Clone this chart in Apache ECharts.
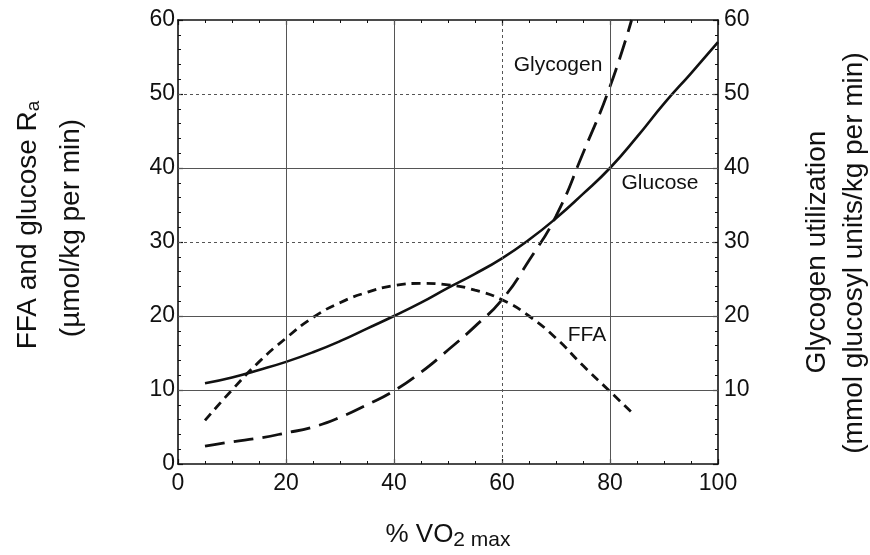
<!DOCTYPE html>
<html><head><meta charset="utf-8">
<script src="https://cdn.jsdelivr.net/npm/echarts@6/dist/echarts.min.js"></script>
<style>html,body{margin:0;padding:0;background:#fff}#c{width:870px;height:555px}</style>
</head><body><div id="c"></div>
<script>
const glucoseX = [5,10,15,20,25,30,35,40,45,50,55,60,65,70,75,80,85,90,95,100];
const glucoseY = [10.9,11.7,12.7,13.8,15.1,16.6,18.3,20,21.8,23.8,25.7,27.8,30.3,33.2,36.5,40,44.2,48.7,52.8,57];
const ffaX = [5,10,15,20,25,30,35,40,45,50,55,60,65,70,75,80,84];
const ffaY = [5.9,10,13.8,17,19.8,21.8,23.2,24.1,24.4,24.2,23.5,22.2,20,17,13.3,9.8,7];
const glycogenX = [5,10,15,20,25,30,35,40,45,50,55,60,65,70,75,80,84];
const glycogenY = [2.4,3,3.5,4.2,5,6.3,8,9.9,12.4,15.4,18.6,22.2,27.5,33.5,42,51,60];
const verticalGrid = [20,40,60,80];
const horizontalGrid = [10,20,30,40,50];
const dottedGrid = [60,30,50];

const FONT = 'Liberation Sans, Arial, Helvetica, sans-serif';
const pairs = (xs, ys) => xs.map((x, i) => [x, ys[i]]);

const axisCommon = {
  type: 'value',
  axisLine: { show: true, onZero: false, lineStyle: { color: '#111', width: 1.6 } },
  axisTick: { show: true, inside: true, length: 5, lineStyle: { color: '#111', width: 1.2 } },
  minorTick: { show: true, length: 3, lineStyle: { color: '#111', width: 1 } },
  splitLine: { show: false },
  axisLabel: { fontFamily: FONT, fontSize: 23, color: '#111' }
};

const gridLines = [];
verticalGrid.forEach(v => gridLines.push({ xAxis: v, lineStyle: dottedGrid.includes(v) ? { type: [3, 3] } : {} }));
horizontalGrid.forEach(v => gridLines.push({ yAxis: v, lineStyle: dottedGrid.includes(v) ? { type: [3, 3] } : {} }));

const chart = echarts.init(document.getElementById('c'), null, { renderer: 'canvas' });
chart.setOption({
  animation: false,
  backgroundColor: '#fff',
  grid: { left: 178, right: 152, top: 20, bottom: 91, containLabel: false },
  xAxis: [
    Object.assign({}, axisCommon, { position: 'bottom', min: 0, max: 100, interval: 20,
      minorTick: Object.assign({}, axisCommon.minorTick, { splitNumber: 4 }),
      axisLabel: Object.assign({}, axisCommon.axisLabel, { margin: 8 }) }),
    Object.assign({}, axisCommon, { position: 'top', min: 0, max: 100, interval: 20,
      minorTick: Object.assign({}, axisCommon.minorTick, { splitNumber: 4 }),
      axisLabel: { show: false } })
  ],
  yAxis: [
    Object.assign({}, axisCommon, { position: 'left', min: 0, max: 60, interval: 10,
      minorTick: Object.assign({}, axisCommon.minorTick, { splitNumber: 5 }),
      axisLabel: Object.assign({}, axisCommon.axisLabel, { margin: 3 }) }),
    Object.assign({}, axisCommon, { position: 'right', min: 0, max: 60, interval: 10,
      minorTick: Object.assign({}, axisCommon.minorTick, { splitNumber: 5 }),
      axisLabel: Object.assign({}, axisCommon.axisLabel, { margin: 6, formatter: v => v === 0 ? '' : String(v) }) })
  ],
  series: [
    { type: 'line', name: 'grid', data: [], silent: true,
      markLine: { silent: true, symbol: 'none', label: { show: false },
        lineStyle: { color: '#555', width: 1, type: 'solid' }, data: gridLines } },
    { type: 'line', name: 'Glucose', data: pairs(glucoseX, glucoseY), smooth: true,
      showSymbol: false, lineStyle: { color: '#111', width: 2.6, type: 'solid' } },
    { type: 'line', name: 'FFA', data: pairs(ffaX, ffaY), smooth: true,
      showSymbol: false, lineStyle: { color: '#111', width: 2.8, type: [9, 6] } },
    { type: 'line', name: 'Glycogen', data: pairs(glycogenX, glycogenY), smooth: true,
      showSymbol: false, lineStyle: { color: '#111', width: 2.8, type: [20, 9] } }
  ],
  graphic: [
    { type: 'text', x: 558, y: 65, style: { text: 'Glycogen', font: '21px ' + FONT, fill: '#111', align: 'center', verticalAlign: 'middle' } },
    { type: 'text', x: 660, y: 183, style: { text: 'Glucose', font: '21px ' + FONT, fill: '#111', align: 'center', verticalAlign: 'middle' } },
    { type: 'text', x: 587, y: 335, style: { text: 'FFA', font: '21px ' + FONT, fill: '#111', align: 'center', verticalAlign: 'middle' } },
    { type: 'text', x: 28, y: 225, rotation: Math.PI / 2, style: {
        text: '{a|FFA and glucose R}{s|a}', align: 'center', verticalAlign: 'middle',
        rich: { a: { fontFamily: FONT, fontSize: 28, fill: '#111', color: '#111' },
                s: { fontFamily: FONT, fontSize: 19, fill: '#111', color: '#111', padding: [12, 0, 0, 0] } } } },
    { type: 'text', x: 71, y: 228, rotation: Math.PI / 2, style: {
        text: '(\u00b5mol/kg per min)', font: '28px ' + FONT, fill: '#111', align: 'center', verticalAlign: 'middle' } },
    { type: 'text', x: 817, y: 252, rotation: Math.PI / 2, style: {
        text: 'Glycogen utilization', font: '28px ' + FONT, fill: '#111', align: 'center', verticalAlign: 'middle' } },
    { type: 'text', x: 854, y: 253, rotation: Math.PI / 2, style: {
        text: '(mmol glucosyl units/kg per min)', font: '28px ' + FONT, fill: '#111', align: 'center', verticalAlign: 'middle' } },
    { type: 'text', x: 448, y: 535, style: {
        text: '{a|% VO}{s|2 max}', align: 'center', verticalAlign: 'middle',
        rich: { a: { fontFamily: FONT, fontSize: 26, fill: '#111', color: '#111' },
                s: { fontFamily: FONT, fontSize: 21, fill: '#111', color: '#111', padding: [10, 0, 0, 0] } } } }
  ]
});
</script></body></html>
